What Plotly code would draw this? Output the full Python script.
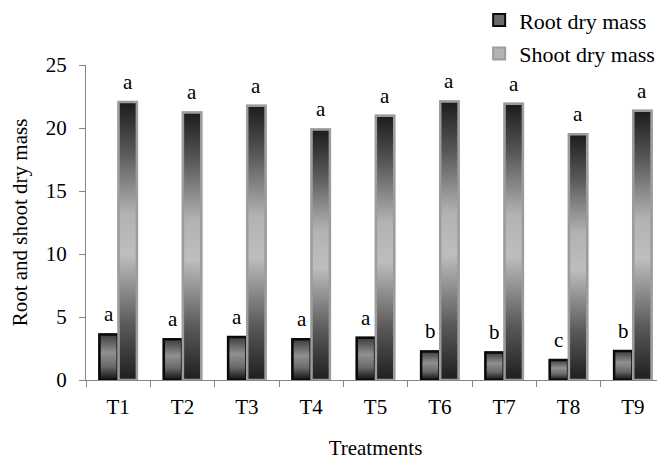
import plotly.graph_objects as go

categories = ["T1", "T2", "T3", "T4", "T5", "T6", "T7", "T8", "T9"]
root_dry_mass = [3.62, 3.23, 3.42, 3.23, 3.36, 2.27, 2.19, 1.59, 2.31]
shoot_dry_mass = [22.06, 21.24, 21.77, 19.89, 20.97, 22.11, 21.92, 19.51, 21.37]
root_letters = ["a", "a", "a", "a", "a", "b", "b", "c", "b"]
shoot_letters = ["a", "a", "a", "a", "a", "a", "a", "a", "a"]
y_ticks = [0, 5, 10, 15, 20, 25]

FONT = "Liberation Serif"
W = 0.285   # bar width (axis units)
G = 0.012   # gap between paired bars
AXIS_COL = "#868686"
ROOT_EDGE = "#0a0a0a"
SHOOT_EDGE = "#9c9c9c"

root_scale = [[0, "#101010"], [0.3, "#6a6a6a"], [0.6, "#909090"], [1, "#3c3c3c"]]
shoot_scale = [[0, "#1e1e1e"], [0.2, "#5a5a5a"], [0.45, "#bebebe"],
               [0.6, "#b2b2b2"], [0.82, "#585858"], [1, "#1c1c1c"]]

idx = list(range(len(categories)))
fig = go.Figure()

fig.add_trace(go.Bar(
    x=idx, y=root_dry_mass, name="Root dry mass", width=W, offset=-W - G / 2,
    marker=dict(color="#6a6a6a", line=dict(color=ROOT_EDGE, width=2)),
    legendgroup="r", hoverinfo="skip"))
fig.add_trace(go.Bar(
    x=idx, y=shoot_dry_mass, name="Shoot dry mass", width=W, offset=G / 2,
    marker=dict(color="#b4b4b4", line=dict(color=SHOOT_EDGE, width=2)),
    legendgroup="s", hoverinfo="skip"))

# gradient overlays for each bar, derived from the same data
for i, v in zip(idx, root_dry_mass):
    x0, x1 = i - G / 2 - W, i - G / 2
    fig.add_trace(go.Scatter(
        x=[x0, x0, x1, x1, x0], y=[0, v, v, 0, 0], mode="lines", fill="toself",
        fillgradient=dict(type="vertical", colorscale=root_scale),
        line=dict(color=ROOT_EDGE, width=2.5), showlegend=False, hoverinfo="skip"))
for i, v in zip(idx, shoot_dry_mass):
    x0, x1 = i + G / 2, i + G / 2 + W
    fig.add_trace(go.Scatter(
        x=[x0, x0, x1, x1, x0], y=[0, v, v, 0, 0], mode="lines", fill="toself",
        fillgradient=dict(type="vertical", colorscale=shoot_scale),
        line=dict(color=SHOOT_EDGE, width=2.5), showlegend=False, hoverinfo="skip"))

# significance letters
for i, v, t in zip(idx, root_dry_mass, root_letters):
    fig.add_annotation(x=i - G / 2 - W / 2, y=v, text=t, showarrow=False,
                       yshift=20, font=dict(family=FONT, size=21, color="black"))
for i, v, t in zip(idx, shoot_dry_mass, shoot_letters):
    fig.add_annotation(x=i + G / 2 + W / 2, y=v, text=t, showarrow=False,
                       yshift=20, font=dict(family=FONT, size=21, color="black"))

# page body has an 8px default margin, so the figure is sized to fit the window
fig.update_layout(
    width=657, height=452,
    margin=dict(l=78, r=0, t=57, b=80, autoexpand=False),
    paper_bgcolor="white", plot_bgcolor="white",
    font=dict(family=FONT, size=21, color="black"),
    barmode="overlay",
    showlegend=True,
    legend=dict(x=0.679, y=1.209, xanchor="left", yanchor="top",
                font=dict(family=FONT, size=22, color="black"),
                traceorder="grouped", tracegroupgap=2,
                bgcolor="rgba(0,0,0,0)"),
    xaxis=dict(
        range=[-0.5, len(categories) - 0.5], tickmode="array", tickvals=idx,
        ticktext=categories, ticks="", showline=True, linecolor=AXIS_COL,
        linewidth=1, showgrid=False, zeroline=False, ticklabelstandoff=8,
        tickfont=dict(family=FONT, size=21, color="black"),
        minor=dict(tickmode="array",
                   tickvals=[i - 0.5 for i in range(len(categories) + 1)],
                   ticks="outside", ticklen=6, tickcolor=AXIS_COL, showgrid=False),
        title=dict(text="Treatments", font=dict(family=FONT, size=21), standoff=33),
    ),
    yaxis=dict(
        range=[0, 25], tickmode="array", tickvals=y_ticks, ticks="outside",
        ticklen=6, tickcolor=AXIS_COL, showline=True, linecolor=AXIS_COL,
        linewidth=1, showgrid=False, zeroline=False, ticklabelstandoff=8,
        tickfont=dict(family=FONT, size=21, color="black"),
        title=dict(text="Root and shoot dry mass", font=dict(family=FONT, size=21),
                   standoff=12),
    ),
)

fig.write_html("out.html")
